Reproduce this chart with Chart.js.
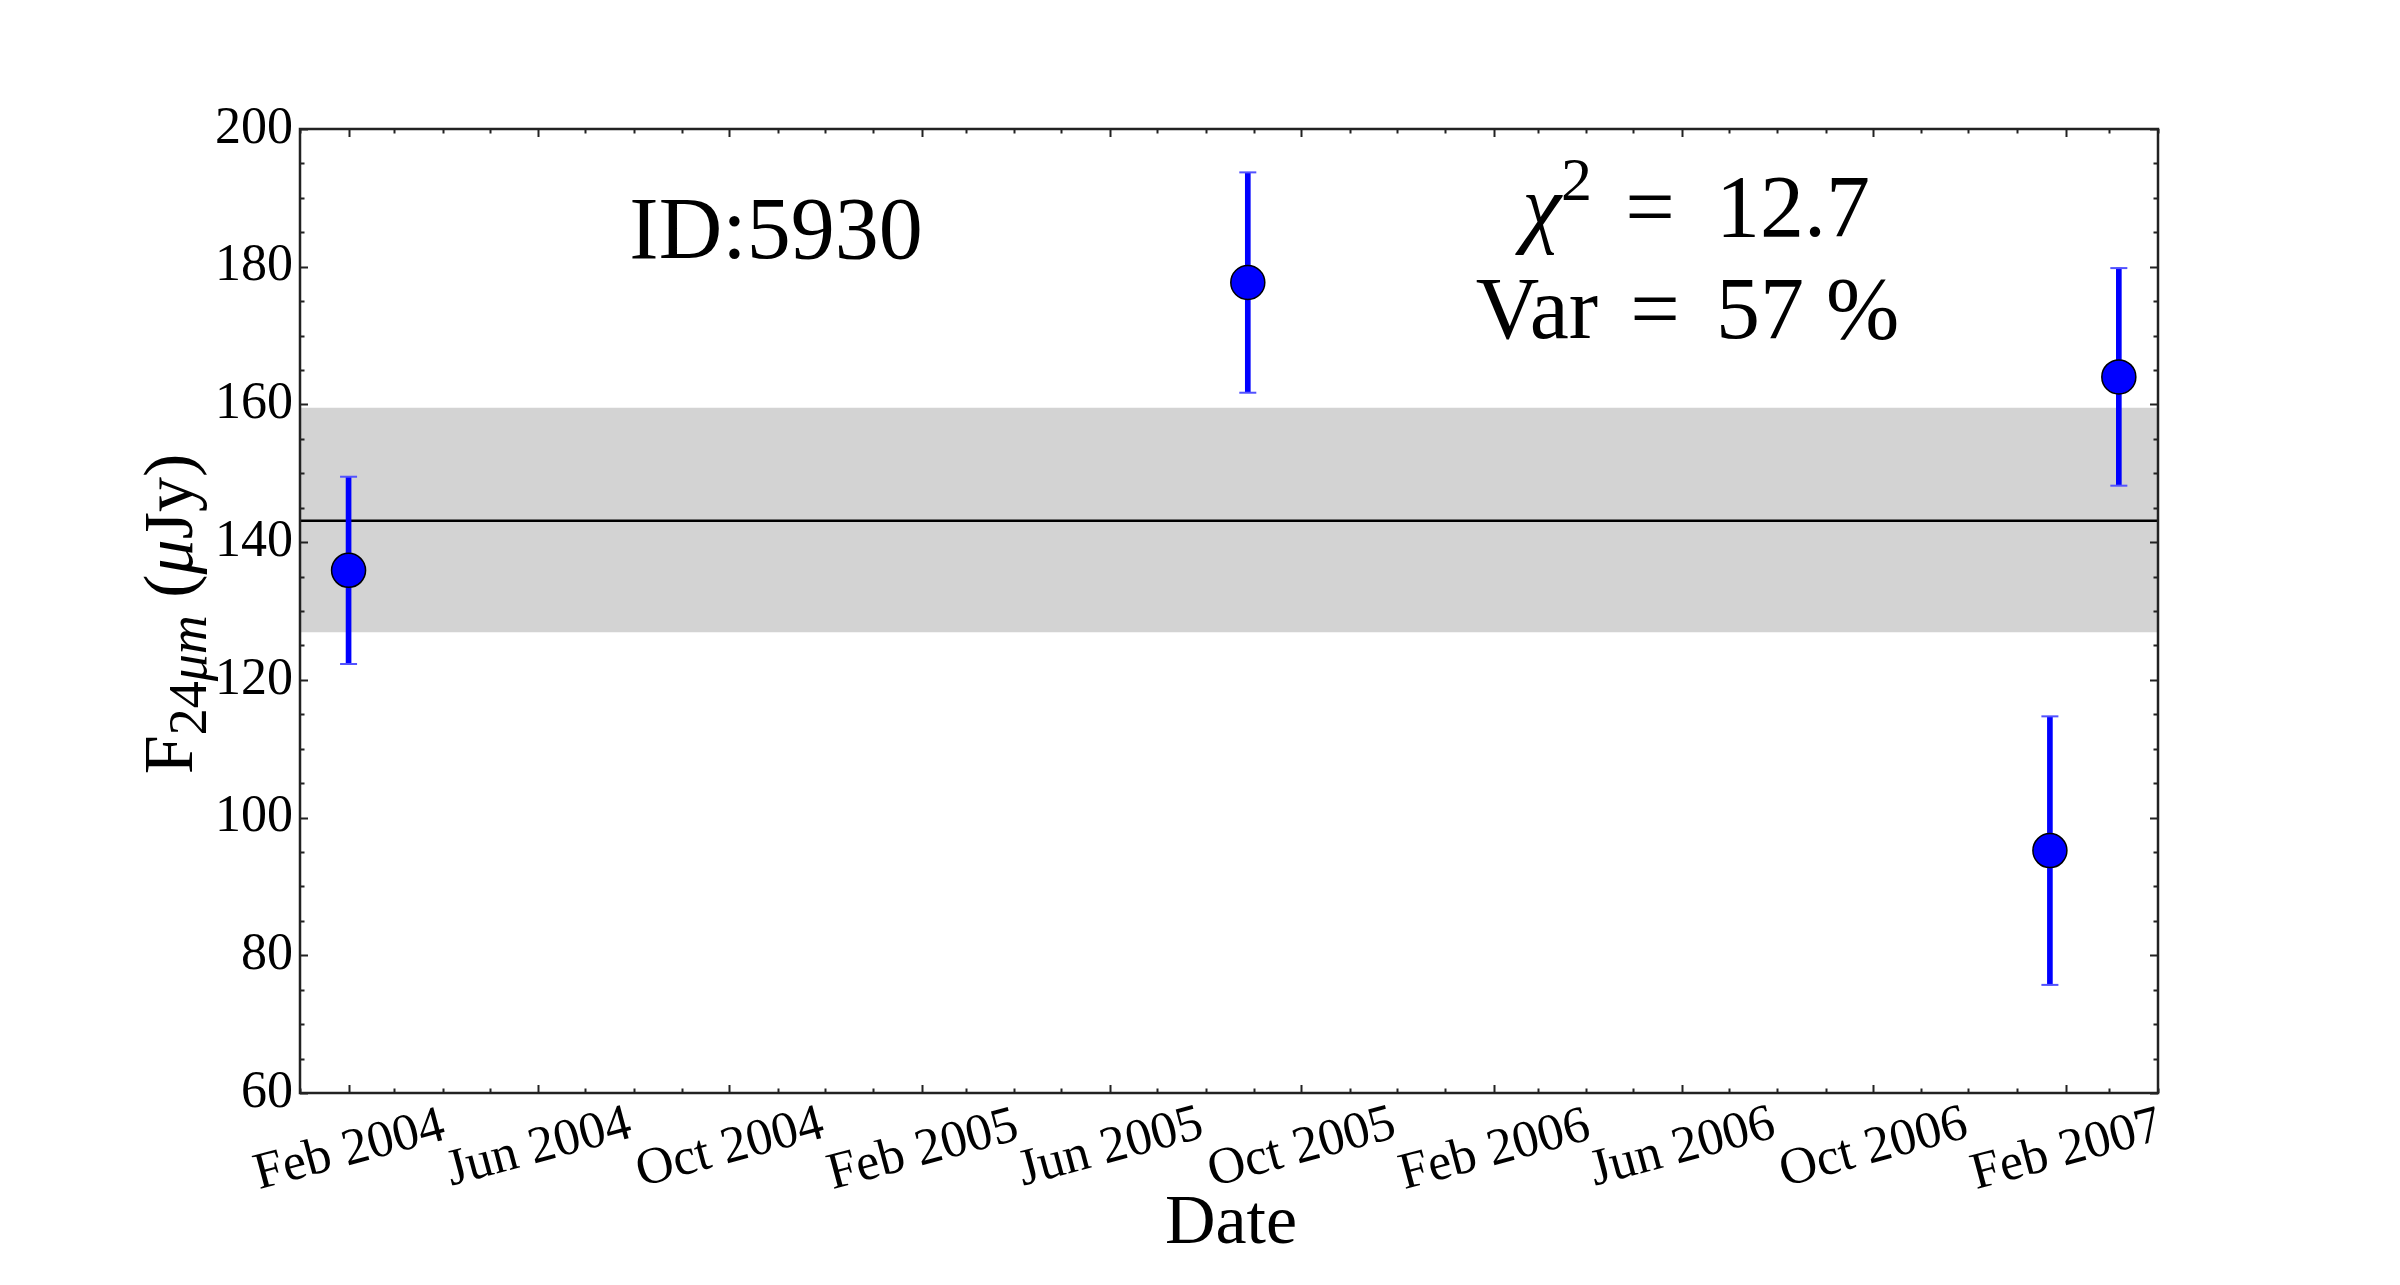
<!DOCTYPE html>
<html>
<head>
<meta charset="utf-8">
<title>ID:5930 light curve</title>
<script src="https://cdn.jsdelivr.net/npm/chart.js@4.4.1/dist/chart.umd.min.js"></script>
<style>
  html, body { margin: 0; padding: 0; background: #fff; }
  canvas { display: block; }
</style>
</head>
<body>
<canvas id="lc" width="2400" height="1285"></canvas>
<script>
// 24um photometry of source 5930
const obsDates = ["2004-02-01", "2005-08-28", "2007-01-22", "2007-03-07"];
const fluxValues = [135.9, 177.7, 95.2, 164.0];
const fluxErrors = [13.6, 16.0, 19.5, 15.8];

// weighted mean and its spread (grey band)
const meanFlux = 143.1;
const meanSpread = [126.9, 159.5];

const xRange = ["2004-01-01", "2007-04-01"];
const yTicks = [60, 80, 100, 120, 140, 160, 180, 200];
const xTickLabels = ["Feb 2004", "Jun 2004", "Oct 2004", "Feb 2005", "Jun 2005",
  "Oct 2005", "Feb 2006", "Jun 2006", "Oct 2006", "Feb 2007"];
const monthNames = ["Jan", "Feb", "Mar", "Apr", "May", "Jun",
  "Jul", "Aug", "Sep", "Oct", "Nov", "Dec"];

const idText = "ID:5930";
const chi2Text = "12.7";
const varText = "57 %";

const SERIF = "'Liberation Serif', 'DejaVu Serif', serif";

const toMs = (s) => Date.parse(s + "T00:00:00Z");
const labelMs = (lbl) => Date.UTC(+lbl.slice(4), monthNames.indexOf(lbl.slice(0, 3)), 1);

const obsMs = obsDates.map(toMs);
const xMin = toMs(xRange[0]);
const xMax = toMs(xRange[1]);

// monthly ticks; Feb/Jun/Oct are the labelled ones
function monthTicks(min, max) {
  const out = [];
  const d = new Date(min);
  let y = d.getUTCFullYear(), m = d.getUTCMonth();
  let t = Date.UTC(y, m, 1);
  while (t <= max) {
    if (t >= min) out.push({ value: t });
    m++;
    if (m > 11) { m = 0; y++; }
    t = Date.UTC(y, m, 1);
  }
  return out;
}

// draws a run of text pieces; returns nothing, x is the left start
function drawRun(ctx, parts, x, baseline) {
  ctx.textAlign = "left";
  parts.forEach((p) => {
    ctx.font = p.f;
    ctx.fillText(p.t, x, baseline + (p.dy || 0));
    x += ctx.measureText(p.t).width;
  });
}
function runWidth(ctx, parts) {
  let w = 0;
  parts.forEach((p) => { ctx.font = p.f; w += ctx.measureText(p.t).width; });
  return w;
}

const framePlugin = {
  id: "frame",
  afterDraw(chart) {
    const ctx = chart.ctx;
    const { left, right, top, bottom } = chart.chartArea;
    const xs = chart.scales.x;
    const ys = chart.scales.y;

    ctx.save();
    ctx.strokeStyle = "#222";
    ctx.lineWidth = 2;
    ctx.beginPath();
    xs.ticks.forEach((t) => {
      const px = Math.round(xs.getPixelForValue(t.value)) + 0.5;
      const major = new Date(t.value).getUTCMonth() % 4 === 1;
      const len = major ? 8 : 4.5;
      ctx.moveTo(px, bottom); ctx.lineTo(px, bottom - len);
      ctx.moveTo(px, top); ctx.lineTo(px, top + len);
    });
    for (let v = ys.min; v <= ys.max; v += 5) {
      const py = Math.round(ys.getPixelForValue(v)) + 0.5;
      const len = v % 20 === 0 ? 8 : 4.5;
      ctx.moveTo(left, py); ctx.lineTo(left + len, py);
      ctx.moveTo(right, py); ctx.lineTo(right - len, py);
    }
    ctx.stroke();

    ctx.lineWidth = 2.5;
    ctx.strokeRect(left, top, right - left, bottom - top);

    // rotated date labels, centred on their tick
    ctx.fillStyle = "#000";
    ctx.font = "52px " + SERIF;
    const rot = 15 * Math.PI / 180;
    xTickLabels.forEach((lbl) => {
      const px = xs.getPixelForValue(labelMs(lbl));
      const m = ctx.measureText(lbl);
      const asc = m.actualBoundingBoxAscent, desc = m.actualBoundingBoxDescent;
      const halfH = (m.width / 2) * Math.sin(rot) + ((asc + desc) / 2) * Math.cos(rot);
      const cy = bottom + 10 + halfH;
      ctx.save();
      ctx.translate(px, cy);
      ctx.rotate(-rot);
      ctx.textAlign = "center";
      ctx.textBaseline = "alphabetic";
      ctx.fillText(lbl, 0, (asc - desc) / 2);
      ctx.restore();
    });

    // x title
    ctx.textAlign = "center";
    ctx.textBaseline = "alphabetic";
    ctx.font = "70px " + SERIF;
    ctx.fillText("Date", (left + right) / 2 + 2, 1243);

    // y title: F_{24 mu m} (mu Jy)
    const yTitle = [
      { t: "F", f: "70px " + SERIF },
      { t: "24", f: "54px " + SERIF, dy: 14 },
      { t: "\u03bcm", f: "italic 54px " + SERIF, dy: 14 },
      { t: " (", f: "70px " + SERIF },
      { t: "\u03bc", f: "italic 70px " + SERIF },
      { t: "Jy)", f: "70px " + SERIF },
    ];
    const tw = runWidth(ctx, yTitle);
    ctx.save();
    ctx.translate(192, 614);
    ctx.rotate(-Math.PI / 2);
    drawRun(ctx, yTitle, -tw / 2, 0);
    ctx.restore();

    // annotations
    ctx.textAlign = "center";
    ctx.font = "88px " + SERIF;
    ctx.fillText(idText, 776, 258);

    const big = "88px " + SERIF;
    // chi^2 line
    const chiLeft = [
      { t: "\u03c7", f: "italic " + big },
      { t: "2", f: "62px " + SERIF, dy: -36 },
    ];
    drawRun(ctx, chiLeft, 1592 - runWidth(ctx, chiLeft), 236);
    ctx.font = big;
    ctx.textAlign = "center";
    ctx.fillText("=", 1650, 236);
    ctx.textAlign = "left";
    ctx.fillText(chi2Text, 1716, 236);

    // Var line
    ctx.textAlign = "right";
    ctx.fillText("Var", 1598, 338);
    ctx.textAlign = "center";
    ctx.fillText("=", 1655, 338);
    ctx.textAlign = "left";
    ctx.fillText(varText, 1716, 338);
    ctx.restore();
  },
};

const ctx = document.getElementById("lc").getContext("2d");

new Chart(ctx, {
  type: "scatter",
  data: {
    datasets: [
      {
        type: "line",
        label: "spread high",
        data: [{ x: xMin, y: meanSpread[1] }, { x: xMax, y: meanSpread[1] }],
        borderWidth: 0,
        pointRadius: 0,
        backgroundColor: "#d3d3d3",
        fill: "+1",
        order: 6,
      },
      {
        type: "line",
        label: "spread low",
        data: [{ x: xMin, y: meanSpread[0] }, { x: xMax, y: meanSpread[0] }],
        borderWidth: 0,
        pointRadius: 0,
        order: 6,
      },
      {
        type: "line",
        label: "mean",
        data: [{ x: xMin, y: meanFlux }, { x: xMax, y: meanFlux }],
        borderColor: "#000",
        borderWidth: 2.5,
        pointRadius: 0,
        order: 5,
      },
      {
        type: "bar",
        label: "errors",
        data: obsMs.map((x, i) => ({ x: x, y: [fluxValues[i] - fluxErrors[i], fluxValues[i] + fluxErrors[i]] })),
        backgroundColor: "#0000ff",
        barThickness: 5,
        order: 4,
      },
      {
        label: "caps",
        data: obsMs.flatMap((x, i) => [
          { x: x, y: fluxValues[i] - fluxErrors[i] },
          { x: x, y: fluxValues[i] + fluxErrors[i] },
        ]),
        pointStyle: "line",
        pointRadius: 8.5,
        borderColor: "#5252ff",
        borderWidth: 2,
        order: 3,
      },
      {
        label: "F24",
        data: obsMs.map((x, i) => ({ x: x, y: fluxValues[i] })),
        pointRadius: 17,
        backgroundColor: "#0000ff",
        borderColor: "#000",
        borderWidth: 1.5,
        order: 1,
      },
    ],
  },
  options: {
    responsive: false,
    animation: false,
    devicePixelRatio: 1,
    layout: {
      padding: { top: 129, right: 242, left: 0, bottom: 0 },
    },
    plugins: {
      legend: { display: false },
      tooltip: { enabled: false },
    },
    scales: {
      x: {
        type: "linear",
        offset: false,
        min: xMin,
        max: xMax,
        grid: { display: false, drawTicks: false, offset: false },
        border: { display: false },
        ticks: { display: false },
        afterBuildTicks: (scale) => { scale.ticks = monthTicks(xMin, xMax); },
        afterFit: (scale) => { scale.height = 192; },
      },
      y: {
        min: 60,
        max: 200,
        grid: { display: false, drawTicks: false },
        border: { display: false },
        ticks: {
          color: "#000",
          padding: 7,
          font: { family: SERIF, size: 52 },
        },
        afterBuildTicks: (scale) => { scale.ticks = yTicks.map((v) => ({ value: v })); },
        afterFit: (scale) => { scale.width = 300; },
      },
    },
  },
  plugins: [framePlugin],
});
</script>
</body>
</html>
